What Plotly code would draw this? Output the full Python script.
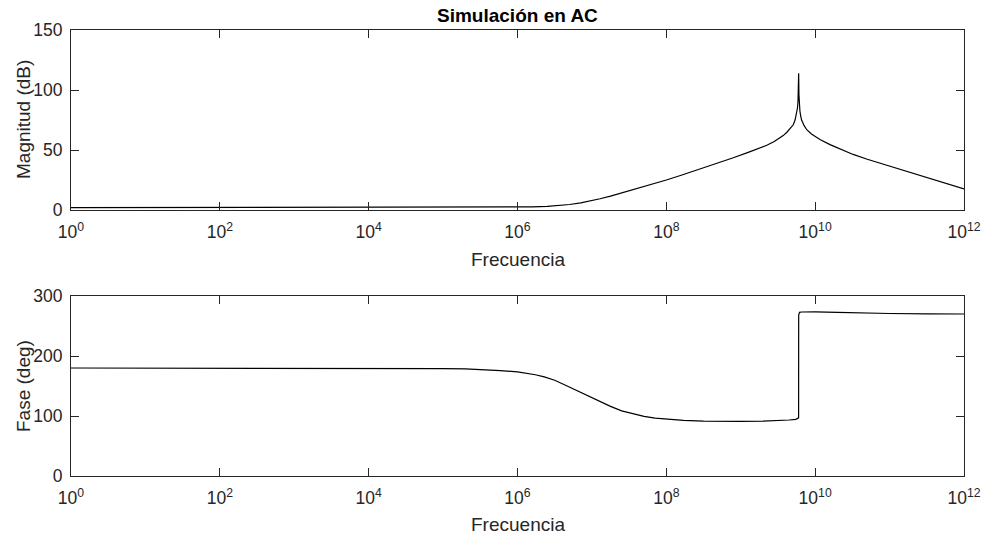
import plotly.graph_objects as go

# ---- data ----
# magnitude subplot: log10(frequency) and magnitude in dB
mag_log10_freq = [0, 2, 4, 5, 5.5, 5.8, 6.0, 6.2, 6.4, 6.57, 6.7, 6.85, 7.0, 7.11, 7.25,
                  7.4, 7.55, 7.7, 7.85, 8.0, 8.2, 8.45, 8.7, 8.9, 9.1, 9.25, 9.35, 9.45,
                  9.52, 9.57, 9.62, 9.67, 9.706, 9.73, 9.751, 9.762, 9.769, 9.774,
                  9.778, 9.782, 9.787, 9.795, 9.805, 9.818, 9.85, 9.887, 9.95, 10.0,
                  10.07, 10.2, 10.34, 10.51, 10.7, 10.9, 11.18, 11.5, 11.8, 12]
mag_db = [2.0, 2.0, 2.0, 2.05, 2.1, 2.2, 2.3, 2.6, 3.1, 3.8, 4.6, 6.0, 7.8, 9.4, 11.6,
          14.2, 17.0, 19.6, 22.3, 25.0, 29.0, 34.0, 39.0, 43.5, 48.0, 51.5, 54.0, 57.0,
          59.5, 62.0, 64.8, 68.0, 71.0, 75.0, 80.5, 85.0, 90.0, 97.0,
          114.0, 96.0, 88.0, 82.5, 78.5, 75.0, 70.5, 66.9, 63.3, 61.2,
          58.6, 54.5, 50.8, 46.3, 42.3, 38.5, 33.6, 27.2, 21.5, 17.5]

# phase subplot: log10(frequency) and phase in degrees
phase_log10_freq = [0, 3, 4, 4.5, 5, 5.3, 5.5, 5.77, 6.0, 6.12, 6.24, 6.36, 6.5, 6.66,
                    6.8, 6.95, 7.1, 7.25, 7.4, 7.55, 7.7, 7.85, 8.0, 8.23, 8.5, 8.72,
                    9.0, 9.3, 9.5, 9.65, 9.74, 9.77, 9.7775, 9.7785, 9.780, 9.79, 9.82,
                    9.9, 10.0, 10.3, 10.5, 11.0, 11.5, 12]
phase_deg = [180.0, 180.0, 179.8, 179.5, 179.0, 178.4, 177.6, 175.6, 173.5, 171.5, 168.8,
             165.2, 159.5, 150.5, 142.0, 133.0, 124.0, 116.0, 108.5, 103.5, 99.5, 96.5,
             94.7, 92.7, 91.5, 91.0, 91.0, 91.5, 92.2, 93.3, 94.5, 95.5, 97.0, 268.0,
             271.5, 272.8, 273.3, 273.6, 273.5, 272.8, 272.0, 270.8, 270.2, 270.0]

x_tick_values = [1e0, 1e2, 1e4, 1e6, 1e8, 1e10, 1e12]
x_tick_labels = ["10<sup>0</sup>", "10<sup>2</sup>", "10<sup>4</sup>", "10<sup>6</sup>",
                 "10<sup>8</sup>", "10<sup>10</sup>", "10<sup>12</sup>"]
mag_ticks = [0, 50, 100, 150]
phase_ticks = [0, 100, 200, 300]

title_text = "Simulación en AC"
x_title = "Frecuencia"
mag_title = "Magnitud (dB)"
phase_title = "Fase (deg)"

# ---- figure ----
mag_freq = [10 ** e for e in mag_log10_freq]
phase_freq = [10 ** e for e in phase_log10_freq]

FONT = "Liberation Sans, Arial, Helvetica, sans-serif"
AX = "#262626"

fig = go.Figure()
fig.add_trace(go.Scatter(x=mag_freq, y=mag_db, mode="lines",
                         line=dict(color="black", width=1.2),
                         xaxis="x", yaxis="y", showlegend=False))
fig.add_trace(go.Scatter(x=phase_freq, y=phase_deg, mode="lines",
                         line=dict(color="black", width=1.2),
                         xaxis="x2", yaxis="y2", showlegend=False))

W, H = 983, 537
ML, MR, MT, MB = 71, 19, 30, 61
PH = H - MT - MB

def py(pix):
    return (H - MB - pix) / PH

def px(pix):
    return (pix - ML) / (W - ML - MR)

xcommon = dict(type="log", range=[0, 12], tickvals=x_tick_values, ticktext=x_tick_labels,
               ticks="inside", ticklen=8, tickwidth=1, tickcolor=AX,
               showline=True, linecolor=AX, linewidth=1, mirror="ticks",
               showgrid=False, zeroline=False, ticklabelstandoff=6, automargin=False,
               tickfont=dict(family=FONT, size=17.5, color=AX))
ycommon = dict(ticks="inside", ticklen=8, tickwidth=1, tickcolor=AX,
               showline=True, linecolor=AX, linewidth=1, mirror="ticks",
               showgrid=False, zeroline=False, ticklabelstandoff=4, automargin=False,
               tickfont=dict(family=FONT, size=17.5, color=AX))

fig.update_layout(
    width=W, height=H,
    margin=dict(l=ML, r=MR, t=MT, b=MB, autoexpand=False),
    paper_bgcolor="white", plot_bgcolor="white",
    xaxis=dict(domain=[0, 1], anchor="y", **xcommon),
    yaxis=dict(domain=[py(210), 1], anchor="x", range=[0, 150], tickvals=mag_ticks, **ycommon),
    xaxis2=dict(domain=[0, 1], anchor="y2", **xcommon),
    yaxis2=dict(domain=[0, py(296)], anchor="x2", range=[0, 300], tickvals=phase_ticks, **ycommon),
    annotations=[
        dict(text="<b>" + title_text + "</b>", xref="paper", yref="paper", x=0.5, y=py(16),
             xanchor="center", yanchor="middle", showarrow=False,
             font=dict(family=FONT, size=19, color="black")),
        dict(text=x_title, xref="paper", yref="paper", x=0.5, y=py(259),
             xanchor="center", yanchor="middle", showarrow=False,
             font=dict(family=FONT, size=19, color=AX)),
        dict(text=x_title, xref="paper", yref="paper", x=0.5, y=py(524),
             xanchor="center", yanchor="middle", showarrow=False,
             font=dict(family=FONT, size=19, color=AX)),
        dict(text=mag_title, xref="paper", yref="paper", x=px(23), y=py(120),
             xanchor="center", yanchor="middle", showarrow=False, textangle=-90,
             font=dict(family=FONT, size=19, color=AX)),
        dict(text=phase_title, xref="paper", yref="paper", x=px(23), y=py(386),
             xanchor="center", yanchor="middle", showarrow=False, textangle=-90,
             font=dict(family=FONT, size=19, color=AX)),
    ],
)

fig.write_html("out.html", config={"displayModeBar": False},
               post_script="document.body.style.margin='0';document.body.style.padding='0';")
